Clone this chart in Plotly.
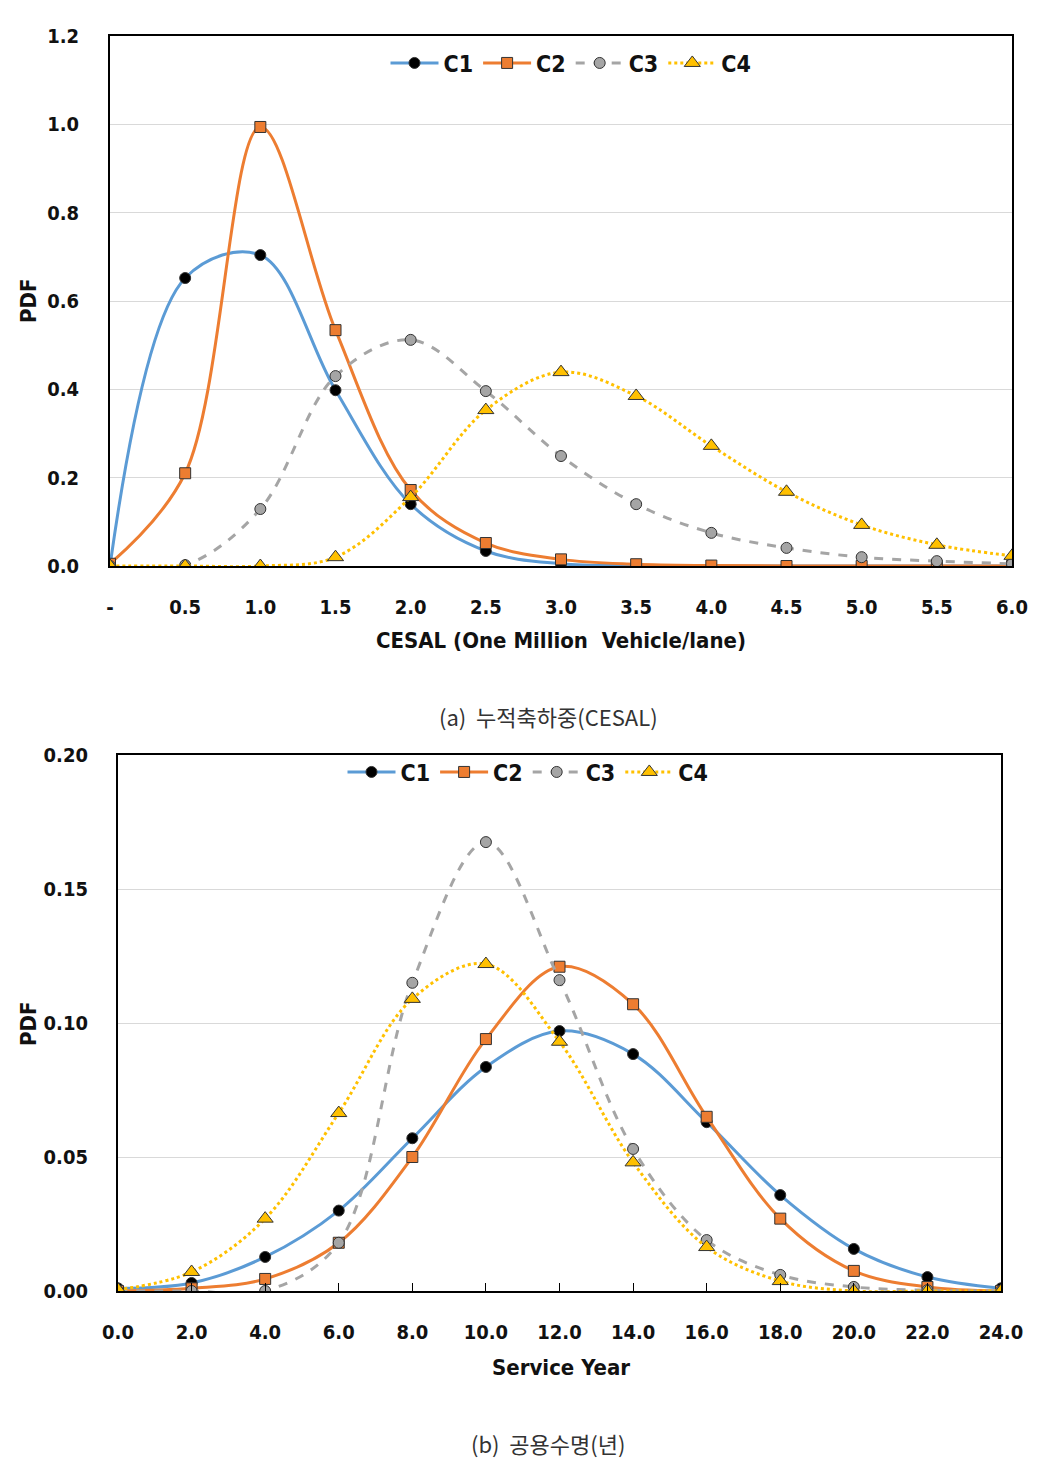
import plotly.graph_objects as go

# ---- data (a) CESAL ----
x_a = [0, 0.5, 1.0, 1.5, 2.0, 2.5, 3.0, 3.5, 4.0, 4.5, 5.0, 5.5, 6.0]
a_c1 = [0.0, 0.652, 0.704, 0.398, 0.140, 0.034, 0.005, 0.001, 0.0, 0.0, 0.0, 0.0, 0.0]
a_c2 = [0.005, 0.210, 0.994, 0.534, 0.172, 0.052, 0.015, 0.004, 0.001, 0.0, 0.0, 0.0, 0.0]
a_c3 = [0.0, 0.002, 0.129, 0.430, 0.512, 0.396, 0.249, 0.140, 0.075, 0.041, 0.020, 0.011, 0.005]
a_c4 = [0.0, 0.0, 0.0, 0.020, 0.156, 0.353, 0.439, 0.385, 0.272, 0.168, 0.093, 0.048, 0.023]
a_xticks = [0, 0.5, 1.0, 1.5, 2.0, 2.5, 3.0, 3.5, 4.0, 4.5, 5.0, 5.5, 6.0]
a_xticktext = ["-", "0.5", "1.0", "1.5", "2.0", "2.5", "3.0", "3.5", "4.0", "4.5", "5.0", "5.5", "6.0"]

# ---- data (b) Service year ----
x_b = [0, 2, 4, 6, 8, 10, 12, 14, 16, 18, 20, 22, 24]
b_c1 = [0.001, 0.003, 0.0127, 0.030, 0.057, 0.0836, 0.097, 0.0884, 0.063, 0.0358, 0.0157, 0.0052, 0.001]
b_c2 = [0.0, 0.001, 0.0045, 0.018, 0.050, 0.094, 0.121, 0.107, 0.065, 0.027, 0.0075, 0.0015, 0.0]
b_c3 = [0.0, 0.0, 0.0, 0.018, 0.115, 0.1675, 0.116, 0.053, 0.019, 0.006, 0.0015, 0.0003, 0.0]
b_c4 = [0.0005, 0.0071, 0.027, 0.0664, 0.109, 0.122, 0.093, 0.048, 0.0164, 0.0037, 0.0, 0.0, 0.0]

names = ["C1", "C2", "C3", "C4"]
line_colors = ["#5B9BD5", "#ED7D31", "#A5A5A5", "#FFC000"]
dashes = ["solid", "solid", "dash", "dot"]
msymbols = ["circle", "square", "circle", "triangle-up"]
msizes = [11, 11, 11, 14]
mcolors = ["#000000", "#ED7D31", "#A5A5A5", "#FFC000"]

FONT = "DejaVu Sans Condensed, Noto Sans CJK KR, Noto Sans"

fig = go.Figure()

for i, ys in enumerate([a_c1, a_c2, a_c3, a_c4]):
    fig.add_trace(go.Scatter(
        x=x_a, y=ys, name=names[i], mode="lines+markers",
        line=dict(color=line_colors[i], width=3, dash=dashes[i], shape="spline", smoothing=1.0),
        marker=dict(symbol=msymbols[i], size=msizes[i], color=mcolors[i],
                    line=dict(color="#333333", width=1)),
        xaxis="x", yaxis="y", legend="legend"))

for i, ys in enumerate([b_c1, b_c2, b_c3, b_c4]):
    fig.add_trace(go.Scatter(
        x=x_b, y=ys, name=names[i], mode="lines+markers",
        line=dict(color=line_colors[i], width=3, dash=dashes[i], shape="spline", smoothing=1.0),
        marker=dict(symbol=msymbols[i], size=msizes[i], color=mcolors[i],
                    line=dict(color="#333333", width=1)),
        xaxis="x2", yaxis="y2", legend="legend2"))

OFF = 8  # page body margin
W, H = 1021, 1450
def px_x(p): return (p - OFF) / W
def px_y(p): return (H - (p - OFF)) / H

tickfont = dict(family=FONT, size=20, color="#111111", weight="bold")
titlefont = dict(family=FONT, size=22, color="#111111", weight="bold")
legfont = dict(family=FONT, size=23, color="#111111", weight="bold")
capfont = dict(family="Noto Sans CJK KR", size=22, color="#333333")

common_axis = dict(automargin=False, showline=True, linecolor="black", linewidth=2,
                   mirror=True, zeroline=False)

def label(text, x, y, font, angle=0):
    return dict(text=text, x=px_x(x), y=px_y(y), xref="paper", yref="paper",
                xanchor="center", yanchor="middle", showarrow=False,
                textangle=angle, font=font)

fig.update_layout(
    width=W, height=H, margin=dict(l=0, r=0, t=0, b=0, autoexpand=False),
    paper_bgcolor="white", plot_bgcolor="white",
    xaxis=dict(domain=[px_x(110), px_x(1012)], range=[0, 6], anchor="y",
               tickvals=a_xticks, ticktext=a_xticktext, tickfont=tickfont,
               showgrid=False, ticks="", ticklabelstandoff=22, **common_axis),
    yaxis=dict(domain=[px_y(566), px_y(36)], range=[0, 1.2], anchor="x",
               tickvals=[0, 0.2, 0.4, 0.6, 0.8, 1.0, 1.2], tickformat=".1f", tickfont=tickfont,
               showgrid=True, gridcolor="#D9D9D9", gridwidth=1,
               ticks="", ticklabelstandoff=25, **common_axis),
    xaxis2=dict(domain=[px_x(118), px_x(1001)], range=[0, 24], anchor="y2",
                tickvals=x_b, tickformat=".1f", tickfont=tickfont,
                showgrid=False, ticks="inside", ticklen=8, tickcolor="black",
                ticklabelstandoff=22, **common_axis),
    yaxis2=dict(domain=[px_y(1291), px_y(755)], range=[0, 0.2], anchor="x2",
                tickvals=[0, 0.05, 0.10, 0.15, 0.20], tickformat=".2f", tickfont=tickfont,
                showgrid=True, gridcolor="#D9D9D9", gridwidth=1,
                ticks="", ticklabelstandoff=24, **common_axis),
    legend=dict(orientation="h", x=px_x(571), xanchor="center", y=px_y(63), yanchor="middle",
                font=legfont, bgcolor="rgba(0,0,0,0)", itemwidth=48, tracegroupgap=0),
    legend2=dict(orientation="h", x=px_x(528), xanchor="center", y=px_y(772), yanchor="middle",
                 font=legfont, bgcolor="rgba(0,0,0,0)", itemwidth=48, tracegroupgap=0),
    showlegend=True,
    annotations=[
        label("CESAL (One Million  Vehicle/lane)", 561, 640, titlefont),
        label("Service Year", 561, 1367, titlefont),
        label("PDF", 28, 301, titlefont, -90),
        label("PDF", 28, 1024, titlefont, -90),
        label("(a)  누적축하중(CESAL)", 548, 716, capfont),
        label("(b)  공용수명(년)", 548, 1443, capfont),
    ],
)

fig.write_html("out.html")
